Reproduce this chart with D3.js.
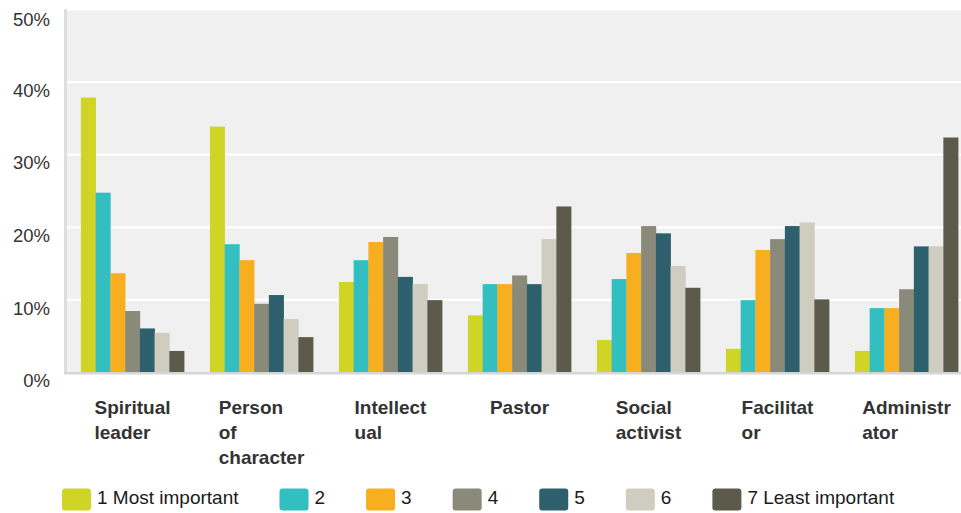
<!DOCTYPE html>
<html>
<head>
<meta charset="utf-8">
<script src="https://cdn.jsdelivr.net/npm/d3@7"></script>
<style>
  html, body { margin: 0; padding: 0; background: #ffffff; }
  svg { display: block; font-family: "Liberation Sans", Arial, Helvetica, sans-serif; }
</style>
</head>
<body>
<svg id="chart" width="961" height="513"></svg>
<script>
// ---- data ----
const categories = ["Spiritual leader", "Person of character", "Intellectual", "Pastor", "Social activist", "Facilitator", "Administrator"];
const categoryLines = [["Spiritual", "leader"], ["Person", "of", "character"], ["Intellect", "ual"], ["Pastor"], ["Social", "activist"], ["Facilitat", "or"], ["Administr", "ator"]];
const seriesNames = ["1 Most important", "2", "3", "4", "5", "6", "7 Least important"];
const seriesColors = ["#cfd427", "#33bec0", "#f7ae1f", "#8a8a7a", "#2d5f6c", "#cfcdbf", "#5c5a4b"];
const rank1 = [37.8, 33.8, 12.4, 7.8, 4.4, 3.2, 2.9];
const rank2 = [24.7, 17.6, 15.4, 12.1, 12.8, 9.9, 8.8];
const rank3 = [13.6, 15.4, 17.9, 12.1, 16.4, 16.8, 8.8];
const rank4 = [8.4, 9.4, 18.6, 13.3, 20.1, 18.3, 11.4];
const rank5 = [6.0, 10.6, 13.1, 12.1, 19.1, 20.1, 17.3];
const rank6 = [5.4, 7.3, 12.1, 18.3, 14.6, 20.6, 17.3];
const rank7 = [2.9, 4.8, 9.9, 22.8, 11.6, 10.0, 32.3];
const seriesValues = [rank1, rank2, rank3, rank4, rank5, rank6, rank7];
const yTicks = [0, 10, 20, 30, 40, 50];

// ---- layout ----
const svg = d3.select("#chart");
const plot = { left: 64, top: 9, right: 961, bottom: 372 };

const x = d3.scaleBand().domain(categories).range([68, 971]).paddingInner(0.2).paddingOuter(0.1);
const xs = d3.scaleBand().domain(seriesNames).range([0, x.bandwidth()]).padding(0);
const y = d3.scaleLinear().domain([0, 50]).range([plot.bottom, plot.top]);

// background
svg.append("rect")
  .attr("x", plot.left).attr("y", plot.top)
  .attr("width", plot.right - plot.left).attr("height", plot.bottom - plot.top)
  .attr("fill", "#f0f0f0");

// gridlines
const grid = svg.append("g").attr("transform", `translate(${plot.left},0)`)
  .call(d3.axisLeft(y).tickValues(yTicks.filter(t => t > 0)).tickSize(-(plot.right - plot.left)).tickFormat(""));
grid.select(".domain").remove();
grid.selectAll("line").attr("stroke", "#ffffff").attr("stroke-width", 2.2);

// bars
const groups = svg.append("g").selectAll("g")
  .data(categories)
  .join("g")
  .attr("transform", d => `translate(${x(d)},0)`);

groups.selectAll("rect")
  .data((c, ci) => seriesNames.map((s, si) => ({ s, si, v: seriesValues[si][ci] })))
  .join("rect")
  .attr("x", d => xs(d.s))
  .attr("width", xs.bandwidth() + 0.3)
  .attr("y", d => y(d.v))
  .attr("height", d => y(0) - y(d.v))
  .attr("fill", d => seriesColors[d.si]);

// left border and bottom axis line
svg.append("rect").attr("x", plot.left).attr("y", plot.top).attr("width", 3).attr("height", plot.bottom - plot.top + 2).attr("fill", "#dedede");
svg.append("rect").attr("x", plot.left).attr("y", plot.bottom).attr("width", plot.right - plot.left).attr("height", 2.5).attr("fill", "#d6d6d6");

// y axis labels
const yAxis = svg.append("g").attr("transform", `translate(50,0)`)
  .call(d3.axisLeft(y).tickValues(yTicks).tickSize(0).tickPadding(0).tickFormat(d => d + "%"));
yAxis.select(".domain").remove();
yAxis.selectAll("text")
  .attr("font-family", "'Liberation Sans', Arial, sans-serif")
  .attr("font-size", "18.5px")
  .attr("fill", "#333333")
  .attr("dy", "0.85em")
  .attr("y", d => d === 50 ? 1 : -1);

// category labels: block centered, lines left-aligned
categories.forEach((c, i) => {
  const t = svg.append("text")
    .attr("font-size", "19px")
    .attr("font-weight", "bold")
    .attr("fill", "#333333");
  const lines = categoryLines[i];
  lines.forEach((ln, j) => {
    t.append("tspan").attr("y", 414 + j * 25).text(ln);
  });
  let maxW = 0;
  t.selectAll("tspan").each(function () { maxW = Math.max(maxW, this.getComputedTextLength()); });
  const cx = x(c) + x.bandwidth() / 2;
  t.selectAll("tspan").attr("x", cx - maxW / 2);
});

// legend
const legend = svg.append("g");
let lx = 62;
seriesNames.forEach((s, i) => {
  const g = legend.append("g").attr("transform", `translate(${lx},0)`);
  g.append("rect").attr("x", 0).attr("y", 488.5).attr("width", 29).attr("height", 22).attr("rx", 3)
    .attr("fill", seriesColors[i]);
  const t = g.append("text").attr("x", 35).attr("y", 504)
    .attr("font-size", "19px").attr("fill", "#1a1a1a").text(s);
  lx += 35 + t.node().getComputedTextLength() + 41;
});
</script>
</body>
</html>
